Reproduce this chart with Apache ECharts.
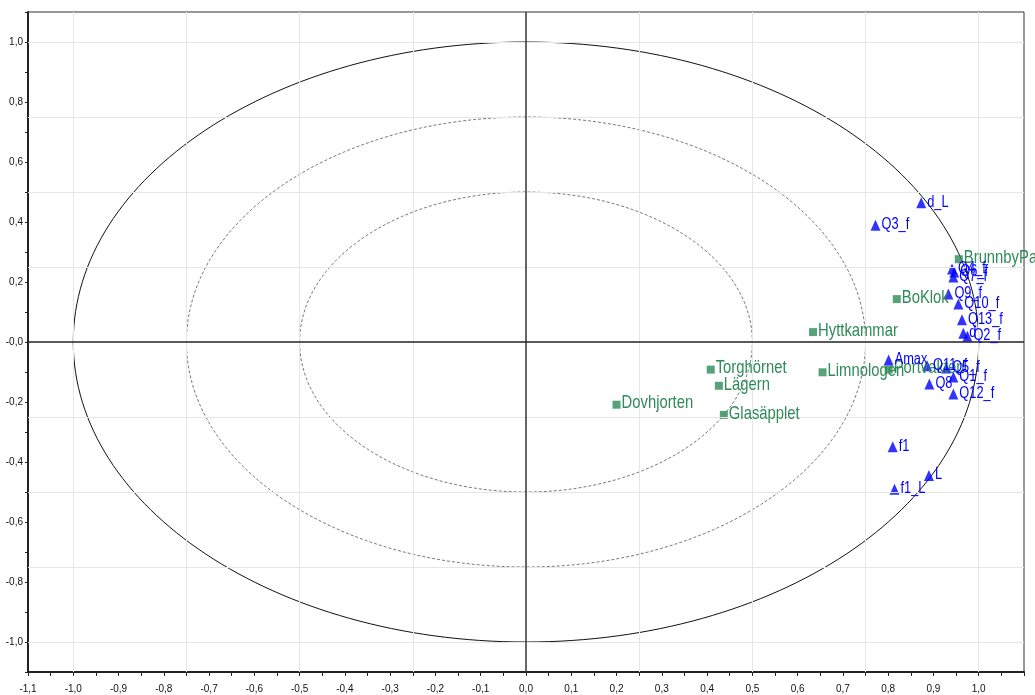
<!DOCTYPE html>
<html>
<head>
<meta charset="utf-8">
<script src="https://cdn.jsdelivr.net/npm/echarts@6/dist/echarts.min.js"></script>
<style>
  html, body { margin: 0; padding: 0; background: #fff; }
  #chart { width: 1035px; height: 695px; }
</style>
</head>
<body>
<div id="chart"></div>
<script>
// Observations (sites): component 1, component 2
const siteNames = ['BrunnbyPark', 'BoKlok', 'Hyttkammar', 'Torghörnet', 'Lägern', 'Glasäpplet', 'Dovhjorten', 'Limnologen', 'Portvakten'];
const siteX = [0.956, 0.819, 0.634, 0.408, 0.426, 0.437, 0.200, 0.655, 0.801];
const siteY = [0.276, 0.143, 0.033, -0.092, -0.146, -0.243, -0.209, -0.101, -0.092];

// Variables (loadings): component 1, component 2
const varNames = ['d_L', 'Q3_f', 'Q4_f', 'Q6_f', 'Q7_f', 'Q9_f', 'Q10_f', 'Q13_f', 'd', 'Q2_f', 'Amax', 'Q11_f', 'Q5_f', 'Q8', 'Q1_f', 'Q12_f', 'f1', 'L', 'f1_L'];
const varX = [0.873, 0.772, 0.941, 0.946, 0.944, 0.933, 0.955, 0.963, 0.966, 0.975, 0.801, 0.886, 0.928, 0.891, 0.944, 0.944, 0.810, 0.890, 0.814];
const varY = [0.464, 0.389, 0.243, 0.233, 0.217, 0.160, 0.127, 0.074, 0.029, 0.019, -0.060, -0.079, -0.087, -0.140, -0.117, -0.173, -0.349, -0.445, -0.491];

// Correlation circles (radii) and reference grid positions
const ringRadii = [1, 0.75, 0.5];
const gridPos = [-1, -0.75, -0.5, -0.25, 0.25, 0.5, 0.75, 1];
const axisMin = -1.1, axisMax = 1.1;

const SITE_COLOR = '#2e8b57';
const VAR_COLOR = '#0000ff';
const fmt = v => (Math.round(v * 10) / 10).toFixed(1).replace('.', ',');

const chart = echarts.init(document.getElementById('chart'), null, { renderer: 'canvas' });

const siteData = siteNames.map((n, i) => [siteX[i], siteY[i], n]);
const varData = varNames.map((n, i) => [varX[i], varY[i], n]);

// Condensed point labels: text placed right of each marker, squeezed horizontally
function labelSeries(data, color, size, squeeze, dx, dy, z) {
  return {
    type: 'custom', z: z, silent: true, clip: false,
    data: data,
    renderItem: (params, api) => {
      const p = api.coord([api.value(0), api.value(1)]);
      return {
        type: 'text',
        x: p[0] + dx, y: p[1] + dy,
        scaleX: squeeze,
        style: {
          text: data[params.dataIndex][2],
          fill: color,
          font: size + 'px "Liberation Sans", Arial, sans-serif',
          align: 'left', verticalAlign: 'middle'
        }
      };
    }
  };
}

chart.setOption({
  animation: false,
  backgroundColor: '#fff',
  grid: { left: 28, right: 11, top: 12, bottom: 23, show: true, borderColor: '#333', borderWidth: 1 },
  xAxis: {
    type: 'value', min: axisMin, max: axisMax, interval: 0.05,
    axisLine: { onZero: false, lineStyle: { color: '#222', width: 2 } },
    axisTick: { length: 4, lineStyle: { color: '#222' } },
    splitLine: { show: false },
    showMaxLabel: false,
    axisLabel: {
      margin: 12, fontSize: 10, color: '#111', fontFamily: '"Liberation Sans", Arial, sans-serif',
      formatter: v => (Math.round(v * 100) % 10 === 0 && Math.round(v * 10) !== 11) ? fmt(v) : ''
    }
  },
  yAxis: {
    type: 'value', min: axisMin, max: axisMax, interval: 0.1,
    axisLine: { onZero: false, lineStyle: { color: '#222', width: 2 } },
    axisTick: { length: 3, lineStyle: { color: '#222' } },
    splitLine: { show: false },
    axisLabel: {
      margin: 5, fontSize: 10, color: '#111', fontFamily: '"Liberation Sans", Arial, sans-serif',
      formatter: v => {
        const k = Math.round(v * 10);
        if (k % 2 !== 0) return '';
        return k === 0 ? '-0,0' : fmt(v);
      }
    }
  },
  series: [
    {
      // light reference grid and the zero cross
      type: 'line', data: [], z: 1, silent: true,
      markLine: {
        silent: true, symbol: 'none', animation: false,
        label: { show: false },
        lineStyle: { color: '#e6e6e6', width: 1, type: 'solid' },
        data: gridPos.map(v => ({ xAxis: v })).concat(gridPos.map(v => ({ yAxis: v })))
          .concat([
            { xAxis: 0, lineStyle: { color: '#333', width: 1.5, type: 'solid' } },
            { yAxis: 0, lineStyle: { color: '#222', width: 1.5, type: 'solid' } }
          ])
      }
    },
    {
      // correlation circles, drawn as ellipses in data space
      type: 'custom', z: 2, silent: true,
      data: ringRadii.map(r => [r]),
      renderItem: (params, api) => {
        const r = api.value(0);
        const c = api.coord([0, 0]);
        const e = api.coord([r, r]);
        const outer = params.dataIndex === 0;
        return {
          type: 'ellipse',
          shape: { cx: c[0], cy: c[1], rx: e[0] - c[0], ry: c[1] - e[1] },
          style: outer
            ? { fill: null, stroke: '#111', lineWidth: 1 }
            : { fill: null, stroke: '#7a7a7a', lineWidth: 1, lineDash: [3, 2] }
        };
      }
    },
    {
      name: 'sites', type: 'scatter', z: 3,
      symbol: 'rect', symbolSize: 8,
      itemStyle: { color: SITE_COLOR },
      data: siteData
    },
    {
      name: 'variables', type: 'scatter', z: 4,
      symbol: 'triangle', symbolSize: [10, 11],
      itemStyle: { color: VAR_COLOR },
      data: varData
    },
    labelSeries(siteData, SITE_COLOR, 19, 0.78, 5, -1.5, 5),
    labelSeries(varData, VAR_COLOR, 16, 0.8, 6, -0.5, 6)
  ]
});
</script>
</body>
</html>
